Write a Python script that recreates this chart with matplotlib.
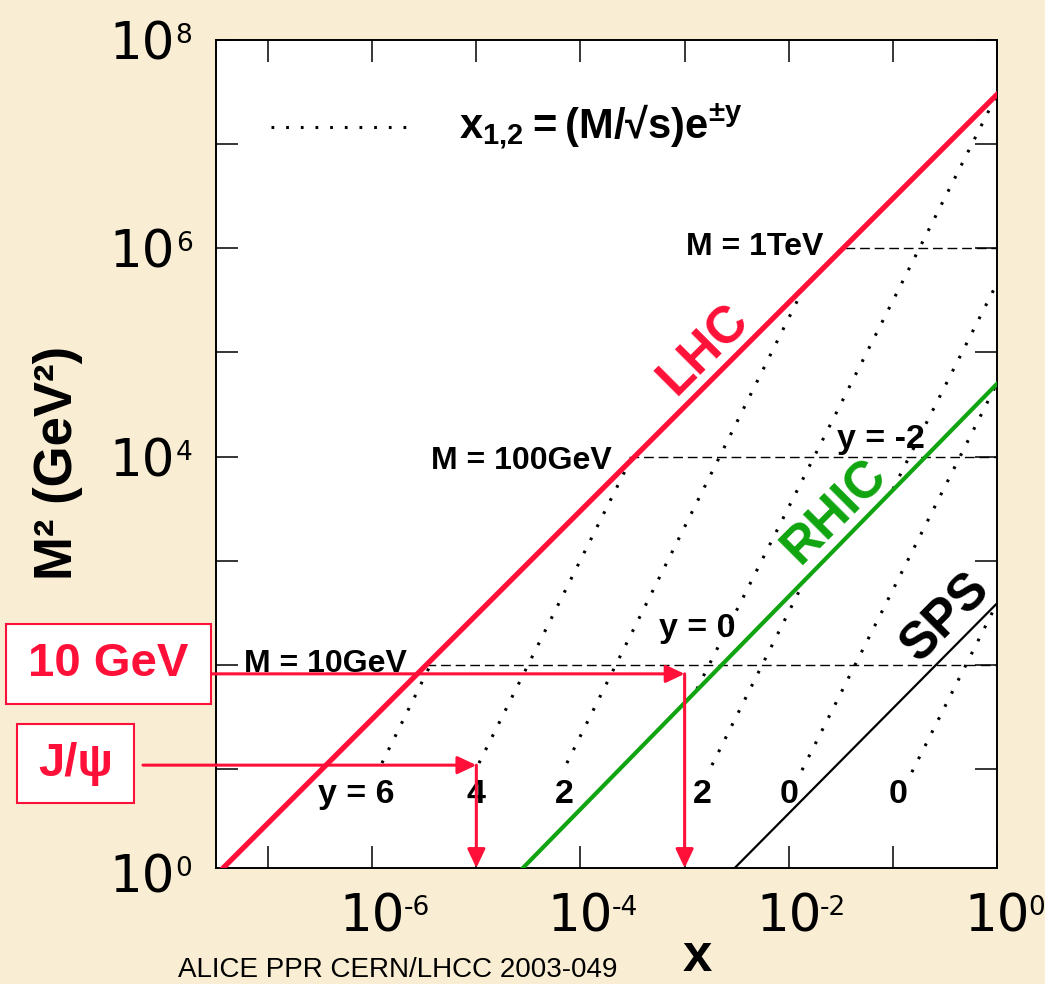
import matplotlib
matplotlib.use('Agg')
import matplotlib.pyplot as plt
from matplotlib.patches import Rectangle
from matplotlib.ticker import NullLocator
from matplotlib.transforms import offset_copy
import numpy as np

plt.rcParams['font.family'] = ['Liberation Sans', 'DejaVu Sans']

RED = '#ff1038'
GREEN = '#10a410'
PAPER = '#f9eed3'
TICK_FONT = ['Liberation Sans Narrow', 'DejaVu Sans Condensed', 'DejaVu Sans']

# kinematic limits of the three colliders (end points)
lhc_x = [3.3e-8, 1.0]
lhc_m2 = [1.0, 3.0e7]
rhic_x = [2.5e-5, 1.0]
rhic_m2 = [1.0, 5.0e4]
sps_x = [2.7e-3, 1.0]
sps_m2 = [1.0, 3.9e2]

# lines of fixed rapidity, x_{1,2} = (M/sqrt s) e^{+-y}
rap_x0 = [1.24e-6, 1.06e-5, 7.4e-5, 1.31e-3, 0.100, 1.83e-3, 1.34e-2, 0.152]
rap_x1 = [3.9e-6, 3.05e-4, 1.5e-2, 1.0, 1.0, 1.5e-2, 1.0, 1.0]
rap_m0 = [11.4, 11.4, 11.4, 58.5, 4.86e3, 10.9, 9.75, 9.33]
rap_m1 = [116, 9.44e3, 4.83e5, 3.0e7, 4.62e5, 724, 5.07e4, 391]

rap_labels = ['y = 6', '4', '2', '2', '0', '0', 'y = 0', 'y = -2']
rap_label_x = [6.95e-7, 9.9e-6, 6.93e-5, 1.47e-3, 1.0e-2, 0.112, 1.31e-3, 7.69e-2]
rap_label_m2 = [4.7, 4.7, 4.7, 4.7, 4.7, 4.7, 184, 1.2e4]

# fixed masses
mass_labels = ['M = 10GeV', 'M = 100GeV', 'M = 1TeV']
mass_m2 = [1e2, 1e4, 1e6]
mass_x0 = [3.3e-6, 2.9e-4, 3.5e-2]
mass_label_x = [5.85e-8, 3.66e-6, 1.03e-3]
mass_label_m2 = [85, 7.57e3, 8.6e5]

# collider names
coll_names = ['LHC', 'RHIC', 'SPS']
coll_colors = [RED, GREEN, 'black']
coll_label_x = [1.55e-3, 2.8e-2, 0.324]
coll_label_m2 = [1.05e5, 2.93e3, 281]

# arrows: 10 GeV and J/psi
arrow_labels = ['10 GeV', 'J/ψ']
arrow_m2 = [82, 10.9]
arrow_x = [1.0e-3, 1.0e-5]
arrow_start = [-0.0064, -0.0935]

x_label_exp = [-6, -4, -2, 0]
y_label_exp = [0, 4, 6, 8]

fig = plt.figure(figsize=(10.45, 9.84), dpi=100, facecolor=PAPER)
ax = fig.add_axes([0.2067, 0.1179, 0.7474, 0.8415])
ax.set_facecolor('white')
ax.set_xscale('log')
ax.set_yscale('log')
ax.set_xlim(10**-7.5, 1.0)
ax.set_ylim(10**0.05, 1e8)
ax.set_xticks(10.0 ** np.arange(-7, 1))
ax.set_yticks(10.0 ** np.arange(1, 9))
ax.xaxis.set_minor_locator(NullLocator())
ax.yaxis.set_minor_locator(NullLocator())
ax.tick_params(which='major', direction='in', length=15.8, width=1.1,
               top=True, right=True, labelbottom=False, labelleft=False)
for sp in ax.spines.values():
    sp.set_linewidth(1.4)

dot_style = (0, (0.9, 3.9))

for x0, x1, m0, m1 in zip(rap_x0, rap_x1, rap_m0, rap_m1):
    ax.plot([x0, x1], [m0, m1], color='black', lw=2.2, ls=dot_style, zorder=2)

for m2, x0 in zip(mass_m2, mass_x0):
    ax.plot([x0, 1.0], [m2, m2], color='black', lw=1.0, ls=(0, (7, 3.5)), zorder=2)

ax.plot(lhc_x, lhc_m2, color=RED, lw=3.8, zorder=3)
ax.plot(rhic_x, rhic_m2, color=GREEN, lw=3.0, zorder=3)
ax.plot(sps_x, sps_m2, color='black', lw=1.6, zorder=3)

for txt, x, m2 in zip(rap_labels, rap_label_x, rap_label_m2):
    ax.text(x, m2, txt, ha='center', va='baseline', fontsize=24.5, fontweight='bold')

for txt, x, m2 in zip(mass_labels, mass_label_x, mass_label_m2):
    ax.text(x, m2, txt, ha='left', va='baseline', fontsize=23, fontweight='bold')

for txt, c, x, m2 in zip(coll_names, coll_colors, coll_label_x, coll_label_m2):
    ax.text(x, m2, txt, color=c, ha='center', va='center', rotation=45,
            rotation_mode='anchor', fontsize=37, fontweight='bold')

# legend of the dotted lines
ax.plot([0.0704, 0.2446], [0.895, 0.895], transform=ax.transAxes,
        color='black', lw=2.2, ls=dot_style)
ax.text(0.311, 0.8816, r'$\mathregular{x_{1{,}2} = (M/√s)e^{±y}}$',
        transform=ax.transAxes, ha='left', va='baseline', fontsize=30, fontweight='bold')

# arrows
arrow_kw = dict(arrowstyle='-|>,head_length=0.95,head_width=0.45', mutation_scale=12,
                color=RED, lw=2.2, shrinkA=0, shrinkB=0)
ybot = ax.get_ylim()[0]
for m2, xt, xs in zip(arrow_m2, arrow_x, arrow_start):
    ax.annotate('', xy=(xt, m2), xycoords='data', xytext=(xs, m2),
                textcoords=('axes fraction', 'data'), arrowprops=arrow_kw,
                annotation_clip=False, zorder=4)
    ax.annotate('', xy=(xt, ybot), xycoords='data', xytext=(xt, m2),
                textcoords='data', arrowprops=arrow_kw, annotation_clip=False, zorder=4)

# tick labels, drawn as "10" plus a small exponent
for e in x_label_exp:
    tr = offset_copy(ax.get_xaxis_transform(), fig=fig, x=0, y=-46, units='points')
    base = ax.text(10.0 ** e, 0, '10', transform=tr, ha='center', va='baseline',
                   fontsize=37, family=TICK_FONT)
    ax.annotate(str(e), xy=(1.0, 0.95), xycoords=base, xytext=(-1.0, 0),
                textcoords='offset points', ha='left', va='top', fontsize=19,
                family=TICK_FONT)

for e in y_label_exp:
    tr = offset_copy(ax.get_yaxis_transform(), fig=fig, x=-29.5, y=-14.0, units='points')
    base = ax.text(0, 10.0 ** e, '10', transform=tr, ha='right', va='baseline',
                   fontsize=37, family=TICK_FONT)
    ax.annotate(str(e), xy=(1.0, 0.95), xycoords=base, xytext=(0.5, 0),
                textcoords='offset points', ha='left', va='top', fontsize=19,
                family=TICK_FONT)

# boxes on the left
box_px = [(6, 624, 211, 704), (17, 724, 134, 803)]
W, H = 1045.0, 984.0
for txt, (x0, y0, x1, y1) in zip(arrow_labels, box_px):
    fig.add_artist(Rectangle((x0 / W, 1 - y1 / H), (x1 - x0) / W, (y1 - y0) / H,
                             transform=fig.transFigure, facecolor='white',
                             edgecolor=RED, lw=1.5, zorder=5))
    fig.text((x0 + x1) / 2 / W, 1 - (y0 + y1) / 2 / H, txt, color=RED, ha='center',
             va='center', fontsize=34, fontweight='bold', zorder=6)

fig.text(58 / W, 1 - 463 / H, 'M² (GeV²)', rotation=90, ha='center', va='center',
         fontsize=38, fontweight='bold')
fig.text(697 / W, 0.002, 'x', ha='center', va='bottom', fontsize=38,
         fontweight='bold')
fig.text(178 / W, 1 - 977 / H, 'ALICE PPR CERN/LHCC 2003-049', ha='left',
         va='baseline', fontsize=20)

fig.savefig('out.png', dpi=100, facecolor=PAPER)
